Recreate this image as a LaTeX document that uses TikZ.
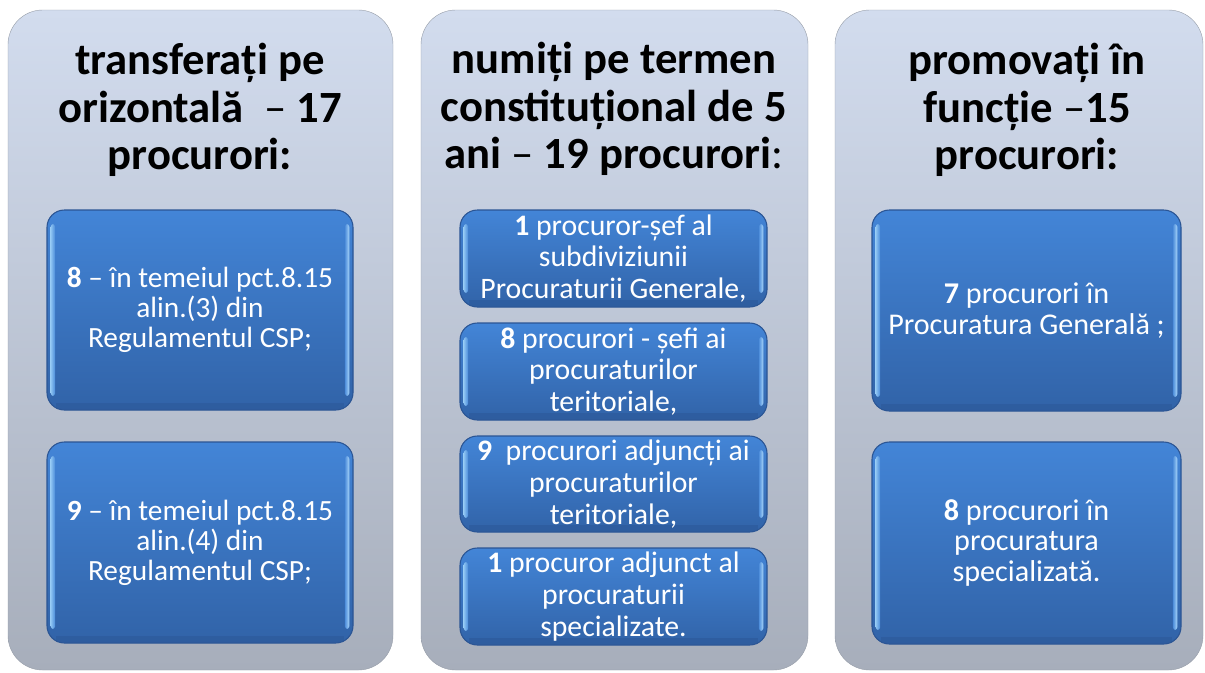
\documentclass[tikz,border=0pt]{standalone}
\usepackage{fontspec}
\setmainfont{Carlito}
\definecolor{panelTop}{HTML}{D2DCEE}
\definecolor{panelBot}{HTML}{A7AEBB}
\definecolor{boxTop}{HTML}{4385D7}
\definecolor{boxBot}{HTML}{3163A8}
\definecolor{boxEdge}{HTML}{2B5594}
\definecolor{bevelL}{HTML}{8EC4F2}
\definecolor{bevelR}{HTML}{A9D6FA}
\tikzset{
  x=0.75pt, y=-0.75pt,
  panel/.style={rounded corners=26pt, top color=panelTop, bottom color=panelBot,
    draw=panelBot!90!black, line width=0.3pt, inner sep=0pt},
  bluebox/.style={rounded corners=13pt, top color=boxTop, bottom color=boxBot,
    draw=boxEdge, line width=0.8pt, inner sep=0pt},
  titletext/.style={align=center, text=black, inner sep=0pt,
    font=\fontsize{33.5}{35.6}\selectfont\bfseries},
  boxtext/.style={align=center, text=white, inner sep=0pt},
  col1font/.style={font=\fontsize{22}{22.6}\selectfont},
  col2font/.style={font=\fontsize{22.3}{23.8}\selectfont},
  col3font/.style={font=\fontsize{22.6}{23.2}\selectfont},
}
\newcommand{\bevelbox}[1]{%
  \shade[left color=bevelL, right color=boxTop!90!bevelL, rounded corners=2pt]
    ([xshift=3.2pt,yshift=-11pt]#1.north west) rectangle ([xshift=6.5pt,yshift=11pt]#1.south west);
  \shade[left color=boxTop!90!bevelR, right color=bevelR, rounded corners=2pt]
    ([xshift=-6.5pt,yshift=-11pt]#1.north east) rectangle ([xshift=-3.2pt,yshift=11pt]#1.south east);
  \fill[boxEdge!85!boxBot, opacity=0.5]
    ([xshift=7pt,yshift=6pt]#1.south west) rectangle ([xshift=-7pt,yshift=1.5pt]#1.south east);
}
\begin{document}
\begin{tikzpicture}
\fill[white] (0,0) rectangle (1205,672);
\useasboundingbox (0,0) rectangle (1205,672);

% panels
\node[panel, minimum width=385*0.75pt, minimum height=660*0.75pt] (p1) at (200.5,340) {};
\node[panel, minimum width=387*0.75pt, minimum height=660*0.75pt] (p2) at (614.5,340) {};
\node[panel, minimum width=368*0.75pt, minimum height=660*0.75pt] (p3) at (1019,340) {};

% titles
\node[titletext] (t1) at (200,110) {transferați pe\\orizontală\ \ {\mdseries –} 17\\procurori:};
\node[titletext] (t2) at (614,109) {numiți pe termen\\constituțional de 5\\ani {\mdseries –} 19 procurori{\mdseries :}};
\node[titletext] (t3) at (1027,110) {promovați în\\funcție {\mdseries –}15\\procurori:};

% column 1 boxes
\node[bluebox, minimum width=306*0.75pt, minimum height=200*0.75pt] (b11) at (200,310) {};
\bevelbox{b11}
\node[boxtext, col1font] (l11) at (b11.center) {\textbf{8} – în temeiul pct.8.15\\alin.(3) din\\Regulamentul CSP;};
\node[bluebox, minimum width=306*0.75pt, minimum height=201*0.75pt] (b12) at (200,542.5) {};
\bevelbox{b12}
\node[boxtext, col1font] (l12) at (b12.center) {\textbf{9} – în temeiul pct.8.15\\alin.(4) din\\Regulamentul CSP;};

% column 2 boxes
\node[bluebox, minimum width=307*0.75pt, minimum height=97*0.75pt] (b21) at (613.5,258.5) {};
\bevelbox{b21}
\node[boxtext, col2font] (l21) at (b21.center) {\textbf{1} procuror-șef al\\subdiviziunii\\Procuraturii Generale,};
\node[bluebox, minimum width=307*0.75pt, minimum height=97*0.75pt] (b22) at (613.5,371.5) {};
\bevelbox{b22}
\node[boxtext, col2font] (l22) at (b22.center) {\textbf{8} procurori - șefi ai\\procuraturilor\\teritoriale,};
\node[bluebox, minimum width=307*0.75pt, minimum height=96*0.75pt] (b23) at (613.5,484) {};
\bevelbox{b23}
\node[boxtext, col2font] (l23) at (b23.center) {\textbf{9}\ \ procurori adjuncți ai\\procuraturilor\\teritoriale,};
\node[bluebox, minimum width=307*0.75pt, minimum height=97*0.75pt] (b24) at (613.5,596.5) {};
\bevelbox{b24}
\node[boxtext, col2font] (l24) at (b24.center) {\textbf{1} procuror adjunct al\\procuraturii\\specializate.};

% column 3 boxes
\node[bluebox, minimum width=309*0.75pt, minimum height=201*0.75pt] (b31) at (1026.5,310.5) {};
\bevelbox{b31}
\node[boxtext, col3font] (l31) at (b31.center) {\textbf{7} procurori în\\Procuratura Generală ;};
\node[bluebox, minimum width=309*0.75pt, minimum height=202*0.75pt] (b32) at (1026.5,543) {};
\bevelbox{b32}
\node[boxtext, col3font] (l32) at (b32.center) {\textbf{8} procurori în\\procuratura\\specializată.};
\end{tikzpicture}
\end{document}
